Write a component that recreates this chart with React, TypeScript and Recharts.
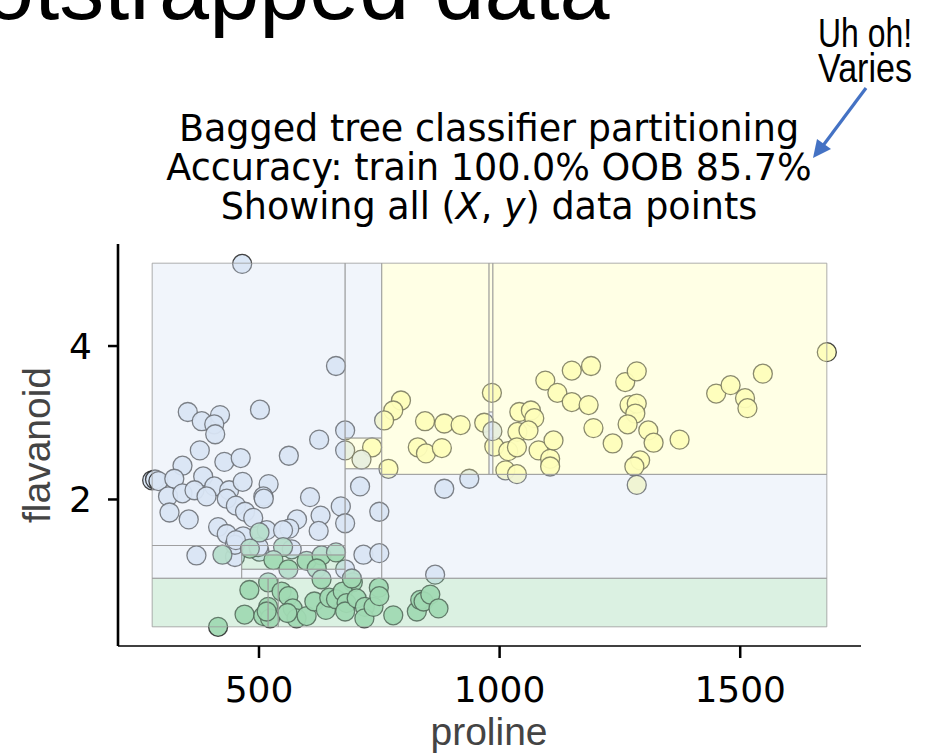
import { ReferenceArea, Scatter, ScatterChart, XAxis, YAxis } from "recharts";

// [proline, flavanoid] per wine class
const class0: [number, number][] = [
  [984, 3.39], [1095, 3.55], [1120, 3.39], [795, 3.29], [779, 3.16], [760, 3.03],
  [845, 3.02], [885, 2.99], [919, 2.97], [968, 3.0], [1041, 3.14], [1065, 3.16],
  [1072, 3.06], [1037, 2.88], [1060, 2.9], [735, 2.68], [830, 2.68], [847, 2.6],
  [880, 2.67], [989, 2.69], [1018, 2.63], [1036, 2.68], [1081, 2.64], [1105, 2.53],
  [1105, 2.43], [1112, 2.77], [769, 2.4], [1012, 2.38], [1036, 2.33], [1680, 3.92],
  [1150, 3.68], [1190, 3.74], [1150, 3.27], [1185, 3.23], [1261, 3.53], [1285, 3.67],
  [1270, 3.23], [1285, 3.25], [1282, 3.12], [1266, 2.98], [1195, 2.93], [1235, 2.73],
  [1309, 2.9], [1320, 2.74], [1374, 2.78], [1292, 2.51], [1280, 2.43], [1285, 2.19],
  [1450, 3.38], [1480, 3.49], [1510, 3.32], [1515, 3.19], [1547, 3.64],
];

const class1: [number, number][] = [
  [465, 5.07], [660, 3.74], [352, 3.14], [381, 3.02], [419, 3.1], [407, 2.98],
  [409, 2.85], [502, 3.17], [377, 2.64], [428, 2.49], [462, 2.54], [562, 2.57],
  [625, 2.78], [679, 2.9], [679, 2.64], [341, 2.44], [278, 2.25], [284, 2.26],
  [291, 2.24], [324, 2.27], [384, 2.3], [311, 2.04], [341, 2.08], [366, 2.12],
  [407, 2.17], [391, 2.04], [438, 2.12], [466, 2.23], [520, 2.2], [433, 2.01],
  [452, 1.92], [471, 1.84], [488, 1.76], [509, 2.04], [510, 2.01], [314, 1.83],
  [354, 1.74], [606, 2.03], [415, 1.64], [433, 1.55], [579, 1.74], [628, 1.79],
  [563, 1.62], [624, 1.59], [370, 1.27], [713, 2.52], [710, 2.17], [750, 1.84],
  [670, 1.91], [679, 1.69], [516, 1.6], [568, 1.35], [717, 1.28], [750, 1.3],
  [450, 1.25], [467, 1.52], [450, 1.41], [501, 1.32], [679, 1.09], [866, 1.02],
  [985, 2.89], [885, 2.14], [937, 2.27], [550, 1.6], [452, 1.47], [499, 1.38],
];

const class2: [number, number][] = [
  [501, 1.57], [481, 1.36], [550, 1.38], [424, 1.28], [530, 1.21], [561, 1.09],
  [599, 1.2], [630, 1.27], [660, 1.31], [620, 1.1], [630, 0.96], [695, 0.92],
  [519, 0.92], [480, 0.82], [547, 0.8], [561, 0.74], [570, 0.58], [578, 0.45],
  [599, 0.48], [615, 0.67], [639, 0.56], [646, 0.72], [660, 0.7], [674, 0.8],
  [682, 0.65], [679, 0.54], [703, 0.71], [720, 0.6], [719, 0.45], [738, 0.6],
  [749, 0.85], [750, 0.74], [779, 0.49], [828, 0.54], [835, 0.69], [842, 0.67],
  [856, 0.76], [873, 0.58], [470, 0.5], [509, 0.48], [519, 0.6], [523, 0.45],
  [516, 0.54], [415, 0.34], [559, 0.52], [693, 0.97],
];

// leaf regions of the bagged trees: proline x flavanoid, predicted class
const partitions = [
  { x1: 278, x2: 519, y1: 0.34, y2: 0.973, cls: 2 },
  { x1: 519, x2: 540, y1: 0.34, y2: 0.973, cls: 2 },
  { x1: 540, x2: 1680, y1: 0.34, y2: 0.973, cls: 2 },
  { x1: 278, x2: 679, y1: 1.4, y2: 5.08, cls: 1 },
  { x1: 278, x2: 464, y1: 0.973, y2: 1.4, cls: 1 },
  { x1: 464, x2: 679, y1: 1.276, y2: 1.4, cls: 1 },
  { x1: 464, x2: 679, y1: 1.09, y2: 1.276, cls: 2 },
  { x1: 464, x2: 679, y1: 0.973, y2: 1.09, cls: 1 },
  { x1: 679, x2: 755, y1: 2.8, y2: 5.08, cls: 1 },
  { x1: 679, x2: 755, y1: 2.4, y2: 2.8, cls: 0 },
  { x1: 679, x2: 755, y1: 0.973, y2: 2.4, cls: 1 },
  { x1: 755, x2: 978, y1: 2.327, y2: 5.08, cls: 0 },
  { x1: 978, x2: 986, y1: 3.14, y2: 5.08, cls: 0 },
  { x1: 978, x2: 986, y1: 2.327, y2: 3.14, cls: 1 },
  { x1: 986, x2: 1680, y1: 2.327, y2: 5.08, cls: 0 },
  { x1: 755, x2: 1680, y1: 0.973, y2: 2.327, cls: 1 },
];

const xDomain = [207, 1751];
const yDomain = [0.09, 5.33];
const xTicks = [500, 1000, 1500];
const yTicks = [2, 4];

const classColors = ["#FEFEBB", "#D9E6F5", "#a1dab4"];

const toRows = (pts: [number, number][]) =>
  pts.map(([proline, flavanoid]) => ({ proline, flavanoid }));

const dot = (fill: string) => (props: any) => (
  <circle
    cx={props.cx}
    cy={props.cy}
    r={9.5}
    fill={fill}
    fillOpacity={0.94}
    stroke="#222"
    strokeOpacity={0.85}
    strokeWidth={1.3}
  />
);

const W = 935;
const H = 755;

export default function App() {
  return (
    <div
      style={{
        position: "absolute",
        left: 0,
        top: 0,
        width: W,
        height: H,
        background: "#fff",
        fontFamily: "DejaVu Sans",
      }}
    >
      {/* axes and data points */}
      <ScatterChart
        width={W}
        height={H}
        margin={{ top: 244, right: 74, bottom: 49, left: 60 }}
      >
        <XAxis
          type="number"
          dataKey="proline"
          domain={xDomain}
          ticks={xTicks}
          allowDataOverflow
          height={60}
          axisLine={{ stroke: "#000", strokeWidth: 1.4 }}
          tickLine={{ stroke: "#000", strokeWidth: 2.5 }}
          tickSize={12}
          tickMargin={18}
          tick={{ fill: "#000", fontSize: 36 }}
        />
        <YAxis
          type="number"
          dataKey="flavanoid"
          domain={yDomain}
          ticks={yTicks}
          allowDataOverflow
          width={58}
          axisLine={{ stroke: "#000", strokeWidth: 2.6 }}
          tickLine={{ stroke: "#000", strokeWidth: 2.5 }}
          tickSize={10}
          tickMargin={16}
          tick={{ fill: "#000", fontSize: 36 }}
        />
        <Scatter data={toRows(class0)} shape={dot(classColors[0])} isAnimationActive={false} />
        <Scatter data={toRows(class1)} shape={dot(classColors[1])} isAnimationActive={false} />
        <Scatter data={toRows(class2)} shape={dot(classColors[2])} isAnimationActive={false} />
      </ScatterChart>

      {/* translucent partition boxes laid over the points */}
      <div style={{ position: "absolute", left: 0, top: 0 }}>
        <ScatterChart
          width={W}
          height={H}
          margin={{ top: 244, right: 74, bottom: 109, left: 118 }}
        >
          <XAxis type="number" dataKey="proline" domain={xDomain} allowDataOverflow hide />
          <YAxis type="number" dataKey="flavanoid" domain={yDomain} allowDataOverflow hide />
          {partitions.map((p, i) => (
            <ReferenceArea
              key={i}
              x1={p.x1}
              x2={p.x2}
              y1={p.y1}
              y2={p.y2}
              fill={classColors[p.cls]}
              fillOpacity={0.38}
              stroke="#999"
              strokeWidth={0.8}
              ifOverflow="visible"
            />
          ))}
        </ScatterChart>
      </div>

      <svg
        width={W}
        height={H}
        style={{ position: "absolute", left: 0, top: 0, pointerEvents: "none" }}
      >
        <text x={-126} y={19} fontFamily="Liberation Sans" fontSize={90} fill="#000">
          Bootstrapped data
        </text>

        <text
          textAnchor="middle"
          fontFamily="Liberation Sans Narrow, Liberation Sans"
          fontSize={40}
          fill="#000"
        >
          <tspan x={865} y={47} textLength={94} lengthAdjust="spacingAndGlyphs">Uh oh!</tspan>
          <tspan x={865} y={82} textLength={94} lengthAdjust="spacingAndGlyphs">Varies</tspan>
        </text>
        <line x1={866} y1={88} x2={822} y2={147} stroke="#4472C4" strokeWidth={3.2} />
        <polygon points="813,158 817,139 831,149" fill="#4472C4" />

        <g fontSize={36.5} textAnchor="middle" fill="#000">
          <text x={489} y={141}>Bagged tree classifier partitioning</text>
          <text x={489} y={180}>Accuracy: train 100.0% OOB 85.7%</text>
          <text x={489} y={219}>
            Showing all (<tspan fontStyle="italic">X</tspan>, <tspan fontStyle="italic">y</tspan>) data points
          </text>
        </g>

        <text x={489} y={745} textAnchor="middle" fontFamily="Liberation Sans" fontSize={39} fill="#444">
          proline
        </text>
        <text
          x={50}
          y={445}
          transform="rotate(-90 50 445)"
          textAnchor="middle"
          fontFamily="Liberation Sans"
          fontSize={39}
          fill="#444"
        >
          flavanoid
        </text>
      </svg>
    </div>
  );
}
